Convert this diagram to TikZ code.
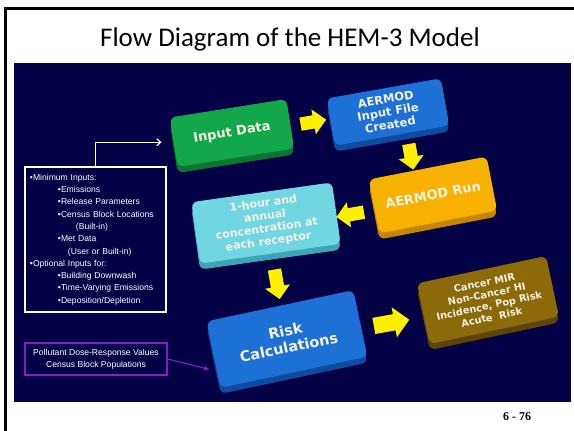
\documentclass[tikz,border=0pt]{standalone}
\usepackage{fontspec}
\setmainfont{Liberation Sans}
\newfontfamily\titlefont{Carlito}
\newfontfamily\boxfont{DejaVu Sans}
\newfontfamily\pagefont{Liberation Serif}
\usetikzlibrary{shapes.arrows, arrows.meta, positioning, calc}
\definecolor{hemnavy}{RGB}{3, 0, 70}
\definecolor{hemtext}{RGB}{246, 243, 228}
\definecolor{hemgreen}{RGB}{18, 168, 74}
\definecolor{hemgreenside}{RGB}{10, 118, 50}
\definecolor{hemblue}{RGB}{28, 112, 214}
\definecolor{hemblueside}{RGB}{14, 76, 160}
\definecolor{hemorange}{RGB}{247, 178, 0}
\definecolor{hemorangeside}{RGB}{196, 134, 0}
\definecolor{hemcyan}{RGB}{112, 214, 226}
\definecolor{hemcyanside}{RGB}{60, 166, 182}
\definecolor{hemolive}{RGB}{140, 106, 10}
\definecolor{hemoliveside}{RGB}{92, 68, 6}
\definecolor{hemyellow}{RGB}{255, 240, 0}
\definecolor{hempurple}{RGB}{128, 32, 192}
\tikzset{
  slab/.style 2 args={rectangle, rounded corners=6pt, fill=#1,
                      preaction={fill=#2, transform canvas={yshift=-6pt}},
                      text=hemtext, align=center, inner sep=2pt},
  slabfont/.style 2 args={font=\boxfont\bfseries\fontsize{#1}{#2}\selectfont},
  yarrow/.style={single arrow, fill=hemyellow, inner sep=6.5pt,
                 single arrow head extend=6pt, minimum height=#1},
  yarrow/.default=26pt,
  wire/.style={-{Straight Barb[length=4pt, width=7pt]}, white, line width=1.1pt},
  pwire/.style={-{Stealth[length=6pt, width=5pt]}, hempurple, line width=1.1pt},
  infobox/.style={rectangle, draw=white, line width=1.2pt, text=white,
                  font=\fontsize{8.6}{12.3}\selectfont},
}

\begin{document}
\begin{tikzpicture}[x=1pt, y=-1pt]
  \useasboundingbox (0,0) rectangle (574,431);
  % page frame
  \draw[line width=3pt] (5.5,431) -- (5.5,8) -- (574,8);
  \node[font=\titlefont\fontsize{27}{31}\selectfont] (title) at (290,39) {Flow Diagram of the HEM-3 Model};
  \node[font=\pagefont\bfseries\fontsize{12}{14}\selectfont] (pgnum) at (517,417) {6 - 76};

  % dark panel
  \fill[hemnavy] (14,63) rectangle (571,402);

  % flow boxes
  \node[slab={hemgreen}{hemgreenside}, slabfont={13}{15}, minimum width=118pt,
        minimum height=50pt, rotate=9] (inp) at (232,133) {Input Data};
  \node[slab={hemblue}{hemblueside}, slabfont={11.5}{13}, minimum width=116pt,
        minimum height=48pt, rotate=10] (aif) at (388,112) {AERMOD\\Input File\\Created};
  \node[slab={hemorange}{hemorangeside}, slabfont={13}{15}, minimum width=120pt,
        minimum height=55pt, rotate=11] (run) at (433,195) {AERMOD Run};
  \node[slab={hemcyan}{hemcyanside}, slabfont={11}{12.8}, minimum width=142pt,
        minimum height=62pt, rotate=8] (conc) at (266,223)
        {1-hour and\\annual\\concentration at\\each receptor};
  \node[slab={hemblue}{hemblueside}, slabfont={14.5}{17}, minimum width=150pt,
        minimum height=68pt, rotate=12] (risk) at (287,339) {Risk\\Calculations};
  \node[slab={hemolive}{hemoliveside}, slabfont={9.8}{11.8}, minimum width=132pt,
        minimum height=62pt, rotate=12] (res) at (488,300)
        {Cancer MIR\\Non-Cancer HI\\Incidence, Pop Risk\\Acute\ \ Risk};

  % yellow arrows
  \node[yarrow, rotate=10] (a1) at ($(inp)!0.5!(aif)$) {};
  \node[yarrow, rotate=-80] (a2) at ($(aif)!0.5!(run)$) {};
  \node[yarrow=28pt, rotate=190] (a3) at ($(run)!0.5!(conc)+(4,5)$) {};
  \node[yarrow=30pt, rotate=-80] (a4) at ($(conc)!0.5!(risk)$) {};
  \node[yarrow=36pt, rotate=10, inner sep=8pt, single arrow head extend=7pt] (a5) at ($(risk)!0.5!(res)+(0,4)$) {};

  % inputs
  \node[infobox, text width=131pt, inner xsep=5pt, minimum height=145pt, align=left] (mininp) at (95.5,239.5)
    {\textbullet Minimum Inputs:\\
     \hspace*{28pt}\textbullet Emissions\\
     \hspace*{28pt}\textbullet Release Parameters\\
     \hspace*{28pt}\textbullet Census Block Locations\\
     \hspace*{46pt}(Built-in)\\
     \hspace*{28pt}\textbullet Met Data\\
     \hspace*{38pt}(User or Built-in)\\
     \textbullet Optional Inputs for:\\
     \hspace*{28pt}\textbullet Building Downwash\\
     \hspace*{28pt}\textbullet Time-Varying Emissions\\
     \hspace*{28pt}\textbullet Deposition/Depletion};
  \node[infobox, draw=hempurple, minimum width=142pt, minimum height=32pt, align=center] (dose) at (96,359)
    {Pollutant Dose-Response Values\\Census Block Populations};

  \draw[wire] (mininp.north) |- ([xshift=-12pt]inp.west);
  \draw[pwire, shorten >=8pt] (dose.east) -- ($(risk.west)!0.5!(risk.south west)$);
\end{tikzpicture}
\end{document}
